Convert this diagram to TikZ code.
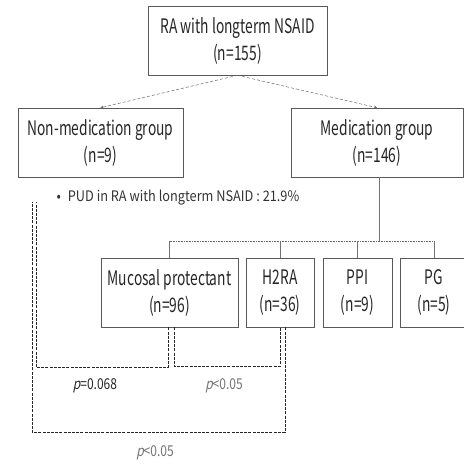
\documentclass[tikz,border=0pt]{standalone}
\usepackage{fontspec}
\setmainfont{Noto Sans CJK KR}
\newfontfamily\boxfont[FakeStretch=0.69]{Noto Sans CJK KR}
\newfontfamily\notefont[FakeStretch=0.88]{Noto Sans CJK KR}
\newfontfamily\pfont[FakeStretch=0.8]{Noto Sans CJK KR}
\newfontfamily\pslant[FakeStretch=0.8,FakeSlant=0.2]{Noto Sans CJK KR}
\usetikzlibrary{arrows.meta}
\tikzset{
	grpbox/.style={
			draw=black!65, line width=0.6pt, minimum height=69pt,
			align=center, inner sep=2pt, text=black!85,
			font=\boxfont\fontsize{20}{27}\selectfont},
	split/.style={draw=black!60, densely dashed, line width=0.5pt,
			-{Stealth[length=3pt,width=3pt]}},
	branch/.style={draw=black!55, line width=0.5pt},
	pbracket/.style={draw=black!85, dash pattern=on 3pt off 1.2pt, line width=0.7pt},
	plabel/.style={font=\pfont\fontsize{15}{17}\selectfont}
}

\begin{document}
\begin{tikzpicture}[x=1pt, y=-1pt]
		\useasboundingbox (0,0) rectangle (464,464);

		\node[grpbox, minimum width=179pt] (all)    at (237.5, 40.5) {RA with longterm NSAID\\(n=155)};
		\node[grpbox, minimum width=165pt] (nonmed) at (100.5, 142.5) {Non-medication group\\(n=9)};
		\node[grpbox, minimum width=172pt] (med)    at (377, 142.5) {Medication group\\(n=146)};

		\node[grpbox, minimum width=137pt] (muc) at (169.5, 292.5) {Mucosal protectant\\(n=96)};
		\node[grpbox, minimum width=68pt]  (h2)  at (280, 292.5) {H2RA\\(n=36)};
		\node[grpbox, minimum width=69pt]  (ppi) at (357.5, 292.5) {PPI\\(n=9)};
		\node[grpbox, minimum width=68pt]  (pg)  at (434, 292.5) {PG\\(n=5)};

		\draw[split] (all.south) -- (nonmed.north);
		\draw[split] (all.south) -- (med.north);

		\node[anchor=west, text=black!80, font=\notefont\fontsize{14.5}{17}\selectfont] (pud) at (53, 198)
			{\textbullet\hspace{7pt}PUD in RA with longterm NSAID : 21.9\%};

		\coordinate (hub) at (379, 241);
		\draw[branch] ([xshift=2pt]med.south) -- (hub);
		\draw[draw=black!60, densely dotted, line width=0.6pt] (hub -| muc.north) -- (hub -| pg.north);
		\foreach \g in {muc, h2, ppi, pg} {
			\draw[branch] (hub -| \g.north) -- (\g.north);
		}

		\coordinate (inTop)  at (36, 202);
		\coordinate (outTop) at (32, 202);

		\draw[pbracket] ([xshift=-1.5pt]muc.south) -- ++(0,40) -| (inTop);
		\draw[pbracket] ([xshift=4.5pt]muc.south) -- ++(0,39) -| (h2.south);
		\draw[pbracket] ([xshift=5pt]h2.south) -- ++(0,105) -| (outTop);

		\node[plabel, text=black!85] (pA) at (95, 386) {{\pslant p}=0.068};
		\node[plabel, text=black!55] (pB) at (224, 386) {{\pslant p}<0.05};
		\node[plabel, text=black!55] (pC) at (155, 453) {{\pslant p}<0.05};
	\end{tikzpicture}
\end{document}
